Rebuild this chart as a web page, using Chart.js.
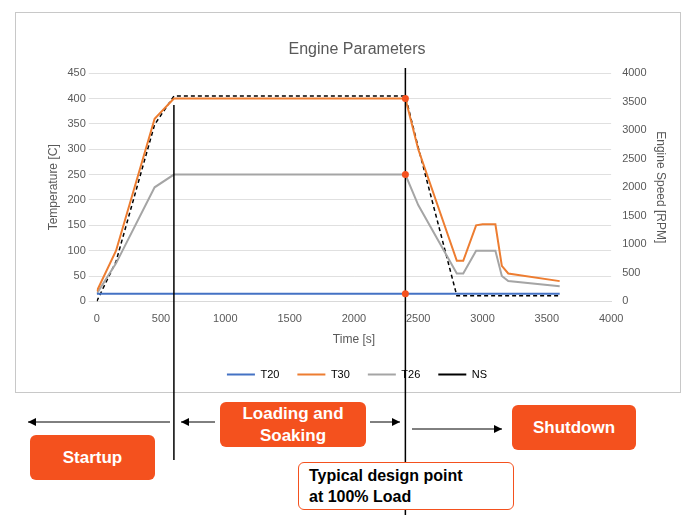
<!DOCTYPE html>
<html><head><meta charset="utf-8">
<script src="https://cdn.jsdelivr.net/npm/chart.js@4/dist/chart.umd.min.js"></script>
<style>
body{margin:0;background:#fff;font-family:Arial,"Liberation Sans",sans-serif}
#wrap{position:relative;width:700px;height:522px}
.box{position:absolute;background:#f4511e;color:#fff;font-weight:bold;font-size:17px;text-align:center;border-radius:6px;display:flex;align-items:center;justify-content:center;line-height:22px}
.note{position:absolute;background:#fff;border:1px solid #f4511e;border-radius:6px;font-weight:bold;font-size:16px;padding:2px 10px;line-height:21px}
</style></head><body>
<div id="wrap">
<canvas id="c" width="700" height="522"></canvas>
<div class="box" style="left:30px;top:435px;width:125px;height:45px">Startup</div>
<div class="box" style="left:220px;top:402px;width:146px;height:45px">Loading and<br>Soaking</div>
<div class="box" style="left:512px;top:405px;width:124px;height:45px">Shutdown</div>
<div class="note" style="left:298px;top:462px;width:194px;height:42px">Typical design point<br>at 100% Load</div>
</div>
<script>
// time axis [s]
const timeT = [0, 150, 450, 600, 2400, 2500, 2800, 2850, 2950, 3000, 3100, 3150, 3200, 3600];
const t30 = [20, 100, 360, 400, 400, 300, 80, 80, 150, 152, 152, 70, 55, 40];
const t26 = [15, 75, 225, 250, 250, 190, 55, 55, 100, 100, 100, 50, 40, 30];
const timeT20 = [0, 3600];
const t20 = [15, 15];
const timeNS = [0, 150, 450, 600, 2400, 2500, 2800, 3600];
const ns = [0, 700, 3100, 3600, 3600, 2700, 100, 100];
const designPts = [400, 250, 15];
const markerTimes = [600, 2400];

const pts = (xs, ys) => xs.map((x, i) => ({x, y: ys[i]}));

const deco = {
  id: 'deco',
  beforeDraw(chart) {
    const c = chart.ctx;
    c.save();
    c.strokeStyle = '#c8c8c8'; c.lineWidth = 1;
    c.strokeRect(15.5, 12.5, 665, 380);
    c.restore();
  },
  afterDraw(chart) {
    const c = chart.ctx, xs = chart.scales.x, ys = chart.scales.y;
    c.save();
    c.strokeStyle = '#000'; c.lineWidth = 1.5;
    const x1 = xs.getPixelForValue(markerTimes[0]), x2 = xs.getPixelForValue(markerTimes[1]);
    c.beginPath(); c.moveTo(x1, 105); c.lineTo(x1, 460); c.stroke();
    c.beginPath(); c.moveTo(x2, 68); c.lineTo(x2, 515); c.stroke();
    const arrow = (a, b, y) => {
      c.beginPath(); c.moveTo(a, y); c.lineTo(b, y); c.stroke();
      const d = b > a ? -1 : 1;
      c.beginPath(); c.moveTo(b, y); c.lineTo(b + d * 8, y - 4); c.lineTo(b + d * 8, y + 4); c.closePath(); c.fillStyle = '#000'; c.fill();
    };
    c.lineWidth = 1;
    arrow(170, 28, 422);
    arrow(215, 181, 422);
    arrow(370, 400, 422);
    arrow(412, 502, 429);
    c.fillStyle = '#f4511e';
    designPts.forEach(v => { c.beginPath(); c.arc(x2, ys.getPixelForValue(v), 3.5, 0, 7); c.fill(); });
    c.restore();
  }
};

new Chart(document.getElementById('c'), {
  type: 'line',
  data: { datasets: [
    {label: 'T20', data: pts(timeT20, t20), borderColor: '#4472c4', borderWidth: 2, yAxisID: 'y'},
    {label: 'T30', data: pts(timeT, t30), borderColor: '#ed7d31', borderWidth: 2, yAxisID: 'y'},
    {label: 'T26', data: pts(timeT, t26), borderColor: '#a5a5a5', borderWidth: 2, yAxisID: 'y'},
    {label: 'NS', data: pts(timeNS, ns), borderColor: '#000', borderWidth: 1.5, borderDash: [4, 3], yAxisID: 'y1'}
  ]},
  options: {
    responsive: false, animation: false,
    elements: {point: {radius: 0}, line: {tension: 0}},
    layout: {padding: {left: 42, right: 28, top: 40, bottom: 132}},
    plugins: {
      title: {display: true, text: 'Engine Parameters', color: '#595959', font: {size: 16, weight: 'normal'}, padding: {bottom: 14}},
      legend: {position: 'bottom', labels: {boxWidth: 28, boxHeight: 0, color: '#595959', font: {size: 11}, padding: 18,
        generateLabels: ch => ch.data.datasets.map((d, i) => ({text: d.label, strokeStyle: d.borderColor, fillStyle: d.borderColor, lineWidth: 2, lineDash: d.borderDash || [], datasetIndex: i}))}}
    },
    scales: {
      x: {type: 'linear', min: 0, max: 4000, ticks: {stepSize: 500, color: '#595959', font: {size: 11}, callback: v => String(v)},
          grid: {display: false}, border: {color: '#d9d9d9'},
          title: {display: true, text: 'Time [s]', color: '#595959', font: {size: 12}}},
      y: {min: 0, max: 450, ticks: {stepSize: 50, color: '#595959', font: {size: 11}},
          grid: {color: '#e0e0e0'}, border: {display: false},
          title: {display: true, text: 'Temperature [C]', color: '#595959', font: {size: 12}}},
      y1: {position: 'right', min: 0, max: 4000, ticks: {stepSize: 500, color: '#595959', font: {size: 11}, callback: v => String(v)},
          grid: {display: false}, border: {display: false},
          title: {display: true, text: 'Engine Speed [RPM]', color: '#595959', font: {size: 12}}}
    }
  },
  plugins: [deco]
});
</script>
</body></html>
